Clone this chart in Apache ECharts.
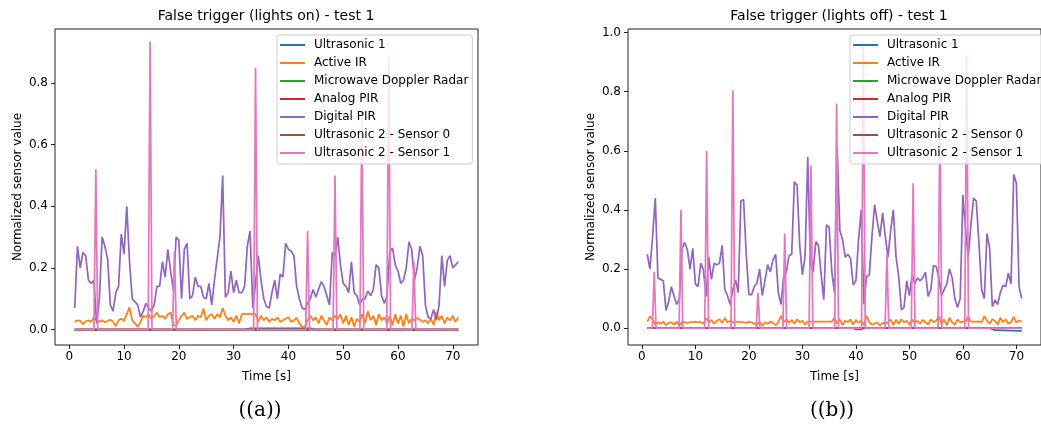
<!DOCTYPE html>
<html>
<head>
<meta charset="utf-8">
<title>False trigger - test 1</title>
<script src="https://cdn.jsdelivr.net/npm/echarts@6/dist/echarts.min.js"></script>
<style>
  html, body { margin: 0; padding: 0; background: #fff; }
  #main { width: 1041px; height: 427px; }
</style>
</head>
<body>
<div id="main"></div>
<script>
// sample grid of the two sensors logged every 0.5 s (1 s .. 71 s)
var T_START = 1, T_STEP = 0.5, T_COUNT = 141;

var names = ['Ultrasonic 1', 'Active IR', 'Microwave Doppler Radar', 'Analog PIR',
  'Digital PIR', 'Ultrasonic 2 - Sensor 0', 'Ultrasonic 2 - Sensor 1'];
var colors = ['#1f77b4', '#ff7f0e', '#2ca02c', '#d62728', '#9467bd', '#8c564b', '#e377c2'];

var xTicks = [0, 10, 20, 30, 40, 50, 60, 70];
var yTicksOn = [0, 0.2, 0.4, 0.6, 0.8];
var yTicksOff = [0, 0.2, 0.4, 0.6, 0.8, 1.0];

// sensors that stay flat at 0 over the whole run
var flatT = [1, 71];
var flatV = [0, 0];

// ---- (a) lights on ----
var pirOn = [
  0.07,0.27,0.20,0.25,0.24,0.16,0.15,0.16,0.02,0.10,
  0.30,0.27,0.23,0.08,0.06,0.12,0.14,0.31,0.245,0.40,
  0.22,0.10,0.09,0.08,0.04,0.06,0.085,0.07,0.06,0.08,
  0.14,0.14,0.22,0.17,0.26,0.19,0.13,0.30,0.29,0.10,
  0.26,0.28,0.10,0.11,0.17,0.14,0.14,0.105,0.10,0.15,
  0.08,0.16,0.23,0.30,0.50,0.105,0.12,0.19,0.12,0.16,
  0.12,0.12,0.14,0.27,0.32,0.07,0.15,0.24,0.16,0.10,
  0.075,0.07,0.12,0.16,0.10,0.18,0.17,0.28,0.26,0.255,
  0.24,0.14,0.10,0.07,0.065,0.085,0.10,0.13,0.105,0.13,
  0.155,0.14,0.11,0.08,0.25,0.24,0.30,0.21,0.15,0.14,
  0.12,0.22,0.12,0.11,0.08,0.10,0.10,0.125,0.11,0.13,
  0.21,0.20,0.11,0.085,0.11,0.25,0.265,0.21,0.19,0.15,
  0.16,0.20,0.285,0.26,0.16,0.20,0.27,0.24,0.08,0.04,
  0.035,0.065,0.03,0.08,0.24,0.14,0.225,0.24,0.20,0.21,
  0.22
];
var irOn = [
  0.025,0.03,0.028,0.018,0.027,0.03,0.025,0.04,0.03,0.025,
  0.03,0.024,0.028,0.032,0.025,0.012,0.03,0.035,0.028,0.05,
  0.072,0.03,0.02,0.009,0.025,0.045,0.04,0.05,0.035,0.045,
  0.055,0.04,0.045,0.035,0.05,0.055,0.015,0.012,0.03,0.045,
  0.055,0.035,0.04,0.045,0.03,0.045,0.04,0.068,0.03,0.045,
  0.05,0.035,0.05,0.04,0.07,0.045,0.03,0.04,0.025,0.045,
  0.02,0.05,0.052,0.05,0.052,0.05,0.05,0.025,0.045,0.03,
  0.04,0.025,0.035,0.03,0.04,0.025,0.03,0.035,0.04,0.025,
  0.03,0.038,0.02,0.008,0.01,0.03,0.045,0.03,0.04,0.02,
  0.045,0.03,0.015,0.04,0.03,0.045,0.035,0.05,0.02,0.045,
  0.015,0.04,0.01,0.035,0.025,0.05,0.02,0.06,0.03,0.045,
  0.015,0.05,0.03,0.04,0.02,0.045,0.015,0.05,0.02,0.045,
  0.01,0.05,0.02,0.035,0.03,0.038,0.032,0.025,0.03,0.02,
  0.035,0.015,0.058,0.03,0.045,0.02,0.04,0.03,0.045,0.025,
  0.04
];
var us1OnT = [1, 7.6, 7.9, 8.2, 14.2, 14.5, 14.8, 32, 33, 44, 45, 46.8, 47.1, 47.4, 55.3, 55.6, 55.9, 71];
var us1On  = [0, 0, -0.005, 0, 0, -0.004, 0, 0, 0.004, 0.004, 0, 0, -0.005, 0, 0, -0.005, 0, 0];
var s1OnT = [1, 4.5, 4.85, 5.2, 14.4, 14.75, 15.1, 18.85, 19.2, 19.55, 33.65, 34.0, 34.35,
  43.15, 43.5, 43.85, 48.15, 48.5, 48.85, 53.05, 53.4, 53.75, 57.95, 58.3, 58.65, 62.55, 62.9, 63.25, 71];
var s1On = [0, 0, 0.52, 0, 0, 0.935, 0, 0, 0.25, 0, 0, 0.85, 0,
  0, 0.32, 0, 0, 0.50, 0, 0, 0.69, 0, 0, 0.89, 0, 0, 0.22, 0, 0];

// ---- (b) lights off ----
var pirOff = [
  0.25,0.20,0.31,0.44,0.17,0.165,0.16,0.06,0.09,0.14,
  0.11,0.08,0.10,0.27,0.29,0.265,0.20,0.27,0.15,0.14,
  0.22,0.197,0.107,0.24,0.165,0.22,0.214,0.22,0.28,0.13,
  0.11,0.08,0.13,0.163,0.12,0.43,0.435,0.25,0.113,0.113,
  0.14,0.152,0.20,0.11,0.16,0.215,0.19,0.23,0.25,0.12,
  0.08,0.175,0.19,0.245,0.25,0.495,0.484,0.28,0.18,0.242,
  0.58,0.22,0.19,0.293,0.28,0.18,0.096,0.35,0.34,0.19,
  0.12,0.61,0.33,0.30,0.24,0.25,0.236,0.146,0.16,0.30,
  0.40,0.08,0.175,0.18,0.31,0.417,0.36,0.31,0.39,0.31,
  0.24,0.33,0.40,0.242,0.175,0.062,0.07,0.16,0.11,0.18,
  0.15,0.17,0.16,0.17,0.19,0.107,0.13,0.212,0.208,0.17,
  0.11,0.13,0.15,0.20,0.17,0.10,0.07,0.10,0.45,0.33,
  0.24,0.35,0.44,0.43,0.287,0.13,0.10,0.32,0.27,0.073,
  0.095,0.08,0.12,0.145,0.14,0.186,0.15,0.52,0.49,0.14,
  0.10
];
var irOff = [
  0.022,0.04,0.03,0.012,0.02,0.015,0.022,0.01,0.018,0.02,
  0.012,0.022,0.008,0.02,0.02,0.018,0.02,0.02,0.022,0.02,
  0.02,0.015,0.034,0.02,0.028,0.015,0.025,0.03,0.018,0.034,
  0.02,0.025,0.02,0.02,0.022,0.02,0.02,0.018,0.022,0.02,
  0.015,0.012,0.022,0.008,0.02,0.015,0.022,0.018,0.01,0.02,
  0.042,0.02,0.03,0.018,0.028,0.015,0.03,0.02,0.025,0.012,
  0.022,0.022,0.022,0.022,0.022,0.022,0.022,0.022,0.022,0.022,
  0.035,0.015,0.03,0.01,0.025,0.02,0.03,0.012,0.028,0.018,
  0.025,0.01,0.042,0.02,0.012,0.015,0.02,0.008,0.018,0.015,
  0.02,0.03,0.01,0.028,0.015,0.03,0.02,0.025,0.012,0.03,
  0.018,0.025,0.015,0.028,0.02,0.012,0.03,0.02,0.025,0.04,
  0.015,0.03,0.01,0.035,0.02,0.012,0.03,0.02,0.022,0.022,
  0.04,0.022,0.022,0.022,0.022,0.02,0.04,0.025,0.015,0.03,
  0.025,0.012,0.035,0.02,0.03,0.015,0.02,0.038,0.02,0.025,
  0.022
];
var us1OffT = [1, 39.5, 40, 41, 41.5, 65, 66, 71];
var us1Off  = [0, 0, -0.004, -0.004, 0, 0, -0.007, -0.009];
var s1OffT = [1, 1.95, 2.3, 2.65, 6.95, 7.3, 7.65, 11.75, 12.1, 12.45, 16.65, 17.0, 17.35,
  21.35, 21.7, 22.05, 26.35, 26.7, 27.05, 31.25, 31.6, 31.95, 36.05, 36.4, 36.75,
  41.05, 41.4, 41.75, 45.45, 45.8, 46.15, 50.35, 50.7, 51.05, 55.35, 55.7, 56.05, 60.35, 60.7, 61.05, 71];
var s1Off = [0, 0, 0.19, 0, 0, 0.40, 0, 0, 0.60, 0, 0, 0.805, 0,
  0, 0.12, 0, 0, 0.32, 0, 0, 0.55, 0, 0, 0.76, 0,
  0, 0.96, 0, 0, 0.25, 0, 0, 0.49, 0, 0, 0.70, 0, 0, 0.92, 0, 0];

var gridTimes = [];
for (var i = 0; i < T_COUNT; i++) gridTimes.push(T_START + i * T_STEP);

function pairs(ts, vs) {
  return ts.map(function (t, k) { return [t, vs[k]]; });
}

function buildSeries(idx, sets) {
  return sets.map(function (s, k) {
    return {
      name: names[k],
      type: 'line',
      xAxisIndex: idx,
      yAxisIndex: idx,
      data: pairs(s[0], s[1]),
      symbol: 'none',
      clip: true,
      lineStyle: { width: 1.75, color: colors[k] },
      itemStyle: { color: colors[k] }
    };
  });
}

var seriesOn = buildSeries(0, [
  [us1OnT, us1On], [gridTimes, irOn], [flatT, flatV], [flatT, flatV],
  [gridTimes, pirOn], [flatT, flatV], [s1OnT, s1On]
]);
var seriesOff = buildSeries(1, [
  [us1OffT, us1Off], [gridTimes, irOff], [flatT, flatV], [flatT, flatV],
  [gridTimes, pirOff], [flatT, flatV], [s1OffT, s1Off]
]);

var FONT = 'DejaVu Sans';

function xAxisFor(idx) {
  return {
    type: 'value', gridIndex: idx, min: -2.6, max: 74.6,
    name: 'Time [s]', nameLocation: 'middle', nameGap: 26,
    nameTextStyle: { fontFamily: FONT, fontSize: 12, color: '#000' },
    axisLine: { show: false, onZero: false },
    axisTick: { show: true, length: 4, customValues: xTicks, lineStyle: { color: '#222' } },
    axisLabel: { customValues: xTicks, margin: 6, fontFamily: FONT, fontSize: 12, color: '#000' },
    splitLine: { show: false }
  };
}
function yAxisFor(idx, min, max, ticks) {
  return {
    type: 'value', gridIndex: idx, min: min, max: max,
    name: 'Normalized sensor value', nameLocation: 'middle', nameGap: 31,
    nameTextStyle: { fontFamily: FONT, fontSize: 12, color: '#000' },
    axisLine: { show: false, onZero: false },
    axisTick: { show: true, length: 4, customValues: ticks, lineStyle: { color: '#222' } },
    axisLabel: {
      customValues: ticks, margin: 7, fontFamily: FONT, fontSize: 12, color: '#000',
      formatter: function (v) { return v.toFixed(1); }
    },
    splitLine: { show: false }
  };
}
function legendAt(left) {
  return {
    data: names, orient: 'vertical', left: left, top: 35,
    icon: 'rect', itemWidth: 25, itemHeight: 2, itemGap: 4,
    padding: [3, 4, 4, 3],
    backgroundColor: 'rgba(255,255,255,0.8)',
    borderColor: '#cccccc', borderWidth: 1, borderRadius: 3,
    textStyle: { fontFamily: FONT, fontSize: 12, color: '#000', lineHeight: 14, padding: [0, 0, 0, 4] },
    selectedMode: false
  };
}
function textAt(x, y, text, font) {
  return {
    type: 'text', x: x, y: y,
    style: { text: text, font: font, fill: '#000', textAlign: 'center', textVerticalAlign: 'middle' }
  };
}

var chart = echarts.init(document.getElementById('main'), null, { renderer: 'canvas' });
chart.setOption({
  animation: false,
  backgroundColor: '#fff',
  grid: [
    { left: 55, top: 29, width: 423, height: 316, show: true, borderColor: '#222', borderWidth: 1 },
    { left: 628, top: 29, width: 423, height: 316, show: true, borderColor: '#222', borderWidth: 1 }
  ],
  xAxis: [xAxisFor(0), xAxisFor(1)],
  yAxis: [yAxisFor(0, -0.05, 0.975, yTicksOn), yAxisFor(1, -0.057, 1.012, yTicksOff)],
  legend: [legendAt(277), legendAt(850)],
  graphic: [
    textAt(266, 16, 'False trigger (lights on) - test 1', '14px "DejaVu Sans"'),
    textAt(839, 16, 'False trigger (lights off) - test 1', '14px "DejaVu Sans"'),
    textAt(260, 411, '((a))', '20px "DejaVu Serif"'),
    textAt(832, 411, '((b))', '20px "DejaVu Serif"')
  ],
  series: seriesOn.concat(seriesOff)
});
</script>
</body>
</html>
